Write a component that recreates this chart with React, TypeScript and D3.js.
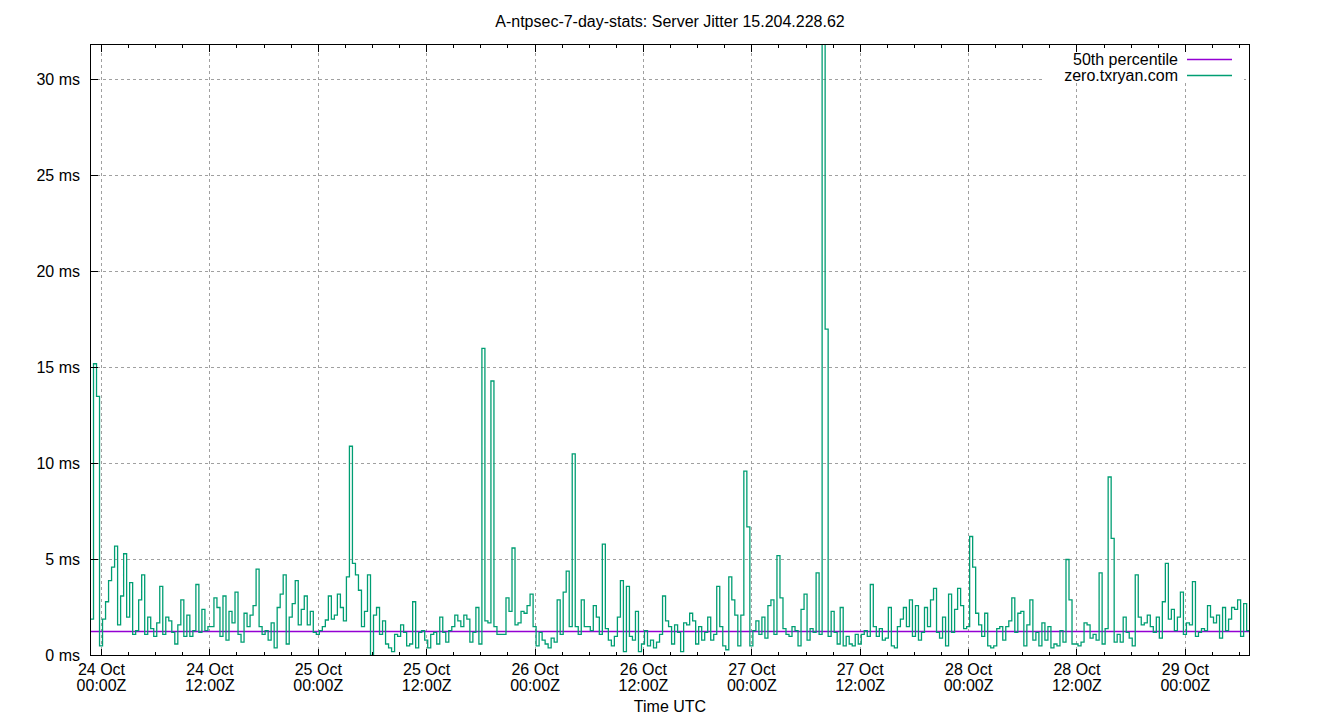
import React from 'react';
import * as d3 from 'd3';

const TITLE = 'A-ntpsec-7-day-stats: Server Jitter 15.204.228.62';
const X_LABEL = 'Time UTC';
const SERIES_NAMES = ['50th percentile', 'zero.txryan.com'];
const SERIES_COLORS = ['#9400d3', '#009e73'];
const START = '2023-10-23T22:47:00Z';
const END = '2023-10-29T07:06:00Z';
const STEP_MINUTES = 20;
const MEDIAN_MS = 1.25;
const Y_MAX = 31.83;
const Y_TICKS = [0, 5, 10, 15, 20, 25, 30];

// server jitter samples (ms), one every STEP_MINUTES from START
const JITTER_MS = [
  1.9, 15.2, 13.5, 0.5, 1.9, 2.8, 3.9, 4.6, 5.7, 1.6,
  3.1, 5.3, 2.0, 3.8, 1.1, 1.3, 2.9, 4.2, 1.1, 2.0,
  1.4, 1.0, 1.7, 3.6, 1.1, 2.0, 1.8, 1.2, 0.6, 1.6,
  2.9, 1.0, 2.1, 1.0, 1.3, 3.7, 1.2, 2.4, 1.3, 1.5,
  1.5, 3.0, 2.5, 1.0, 3.1, 0.8, 2.3, 1.7, 3.3, 1.1,
  0.7, 2.2, 1.5, 2.1, 2.6, 4.5, 1.5, 1.1, 1.3, 0.8,
  1.7, 0.4, 2.5, 3.2, 4.2,
  0.6, 2.0, 2.7, 3.9, 1.6, 2.4, 3.1, 1.6, 2.3, 1.2,
  1.1, 1.3, 1.5, 1.85, 3.1, 1.9, 2.1, 3.2, 2.5, 1.8,
  4.1, 10.9, 4.8, 4.2, 3.4, 1.5, 2.3, 4.2, 0.0, 2.1,
  2.5, 1.1, 1.8, 0.6, 0.4, 0.2, 1.1, 1.0, 1.6, 1.2,
  0.5, 0.6, 2.8, 0.4, 1.2, 1.3, 0.8, 0.4, 1.1, 1.2,
  0.6, 2.0, 1.2, 0.7, 1.3, 1.5, 2.1, 1.8, 1.5, 2.1,
  1.9, 0.7, 1.2, 2.5,
  0.6, 16.0, 1.8, 1.7, 14.3, 1.5, 1.1, 1.1, 1.1, 3.0,
  2.3, 5.6, 1.6, 1.7, 2.3, 2.2, 2.6, 3.2, 1.5, 0.5,
  1.2, 0.8, 0.6, 0.4, 0.9, 0.7, 2.9, 1.1, 3.3, 4.4,
  1.5, 10.5, 1.5, 1.1, 2.9, 1.5, 1.5, 1.3, 2.6, 2.0,
  1.1, 5.8, 1.4, 0.8, 0.5, 1.0, 2.0, 3.9, 0.2, 3.6,
  1.0, 0.8, 2.3, 0.2, 0.6, 1.3, 0.5, 0.8, 0.4, 0.7,
  1.1, 3.1, 1.8, 1.5, 0.6,
  1.6, 1.2, 0.2, 1.7, 1.6, 2.2, 1.8, 0.6, 1.5, 0.8,
  1.2, 2.0, 0.8, 1.1, 3.6, 1.5, 0.5, 0.3, 4.1, 2.9,
  2.1, 0.5, 2.1, 9.6, 6.7, 0.5, 1.3, 1.8, 1.1, 2.0,
  0.9, 2.6, 2.9, 1.1, 5.2, 3.0, 1.4, 1.1, 1.0, 1.5,
  1.3, 0.5, 2.4, 3.2, 0.8, 1.4, 1.2, 4.3, 1.1, 34.0,
  17.0, 1.0, 2.3, 1.2, 0.6, 2.5, 0.5, 1.0, 0.6, 0.5,
  1.1, 0.6, 1.1, 1.3,
  1.0, 3.7, 1.5, 1.0, 1.4, 0.8, 0.9, 2.5, 0.5, 0.4,
  1.5, 1.9, 2.5, 1.5, 2.9, 1.0, 2.6, 0.8, 1.2, 2.5,
  1.5, 2.9, 3.5, 1.2, 0.9, 2.0, 0.5, 3.2, 1.2, 2.4,
  3.5, 2.6, 1.4, 1.5, 6.2, 4.6, 2.2, 1.6, 1.0, 2.2,
  0.5, 0.4, 0.5, 1.4, 1.5, 0.8, 1.5, 1.8, 3.0, 1.2,
  2.2, 2.3, 0.5, 1.6, 2.9, 0.8, 1.2, 0.5, 1.7, 0.8,
  1.5, 0.4, 0.6, 0.5, 1.3,
  0.7, 5.0, 2.9, 0.6, 0.6, 0.5, 0.7, 1.7, 1.6, 0.9,
  1.1, 0.8, 4.3, 0.6, 1.4, 9.3, 6.1, 0.7, 1.1, 0.7,
  2.0, 1.2, 0.9, 0.5, 4.2, 2.0, 1.6, 1.7, 2.1, 1.5,
  1.2, 2.0, 0.9, 2.8, 4.8, 1.9, 2.4, 1.3, 2.0, 3.3,
  1.1, 1.7, 1.6, 3.85, 1.0, 1.2, 1.4, 1.3, 2.6, 2.0,
  1.7, 2.1, 0.9, 2.5, 1.3, 1.9, 2.5, 2.4, 2.9, 1.0,
  2.7, 1.3, 2.5,
];

const FONT = '"Liberation Sans", Arial, sans-serif';

export default function App() {
  const W = 1340, H = 720;
  const L = 90.5, R = 1249.5, T = 44.5, B = 655.5;
  const start = new Date(START);
  const end = new Date(END);
  const x = d3.scaleUtc().domain([start, end]).range([L, R]);
  const y = d3.scaleLinear().domain([0, Y_MAX]).range([B, T]);

  const pts: [Date, number][] = JITTER_MS.map((v, i) => [
    new Date(start.getTime() + i * STEP_MINUTES * 60000),
    v,
  ]);
  const line = d3
    .line<[Date, number]>()
    .x((d) => x(d[0]))
    .y((d) => y(d[1]))
    .curve(d3.curveStepAfter);

  const snap = (v: number) => Math.round(v - 0.5) + 0.5;
  const medianLine = d3
    .line<[Date, number]>()
    .x((d) => x(d[0]))
    .y((d) => snap(y(d[1])));

  const major = d3.utcHour.every(12)!.range(start, end);
  const minor = d3.utcHour
    .every(3)!
    .range(start, end)
    .filter((d) => d.getUTCHours() % 12 !== 0);
  const fmtDay = d3.utcFormat('%d %b');
  const fmtTime = d3.utcFormat('%H:%MZ');

  return (
    <svg
      width={W}
      height={H}
      style={{ position: 'absolute', left: 0, top: 0, background: '#fff' }}
      fontFamily={FONT}
      fontSize={16}
    >
      <rect x={0} y={0} width={W} height={H} fill="#fff" />
      <defs>
        <clipPath id="plotclip">
          <rect x={L} y={T} width={R - L} height={B - T} />
        </clipPath>
      </defs>
      {/* grid */}
      <g stroke="#a0a0a0" strokeWidth={1} strokeDasharray="3,3" shapeRendering="crispEdges">
        {Y_TICKS.filter((v) => v > 0).map((v) => (
          <line key={'gy' + v} x1={L} x2={R} y1={snap(y(v))} y2={snap(y(v))} />
        ))}
        {major.map((d) => (
          <line key={'gx' + d.getTime()} x1={snap(x(d))} x2={snap(x(d))} y1={B} y2={T} />
        ))}
      </g>
      {/* data */}
      <g clipPath="url(#plotclip)">
        <path
          d={medianLine([
            [start, MEDIAN_MS],
            [end, MEDIAN_MS],
          ]) || ''}
          fill="none"
          stroke={SERIES_COLORS[0]}
          strokeWidth={1.5}
        />
        <path
          d={line(pts) || ''}
          fill="none"
          stroke={SERIES_COLORS[1]}
          strokeWidth={1.3}
        />
      </g>
      {/* key background */}
      <rect x={1042} y={45.5} width={202} height={36} fill="#fff" />
      {/* border */}
      <rect x={L} y={T} width={R - L} height={B - T} fill="none" stroke="#000" strokeWidth={1} shapeRendering="crispEdges" />
      {/* ticks */}
      <g stroke="#000" strokeWidth={1} shapeRendering="crispEdges">
        {Y_TICKS.map((v) => (
          <line key={'ty' + v} x1={L} x2={L + 7} y1={snap(y(v))} y2={snap(y(v))} />
        ))}
        {major.map((d) => (
          <g key={'tx' + d.getTime()}>
            <line x1={snap(x(d))} x2={snap(x(d))} y1={B} y2={B - 7} />
            <line x1={snap(x(d))} x2={snap(x(d))} y1={T} y2={T + 7} />
          </g>
        ))}
        {minor.map((d) => (
          <g key={'mx' + d.getTime()}>
            <line x1={snap(x(d))} x2={snap(x(d))} y1={B} y2={B - 3.5} />
            <line x1={snap(x(d))} x2={snap(x(d))} y1={T} y2={T + 3.5} />
          </g>
        ))}
      </g>
      {/* y labels */}
      {Y_TICKS.map((v) => (
        <text key={'ly' + v} x={80} y={y(v) + 5.7} textAnchor="end" fill="#000">
          {v} ms
        </text>
      ))}
      {/* x labels */}
      {major.map((d) => (
        <g key={'lx' + d.getTime()}>
          <text x={x(d)} y={674.7} textAnchor="middle" fill="#000">
            {fmtDay(d)}
          </text>
          <text x={x(d)} y={690.7} textAnchor="middle" fill="#000">
            {fmtTime(d)}
          </text>
        </g>
      ))}
      <text x={(L + R) / 2} y={711.7} textAnchor="middle" fill="#000">
        {X_LABEL}
      </text>
      <text x={(L + R) / 2} y={26.7} textAnchor="middle" fill="#000">
        {TITLE}
      </text>
      {/* legend */}
      {SERIES_NAMES.map((name, i) => (
        <g key={name}>
          <text x={1178} y={64.5 + i * 16} textAnchor="end" fill="#000">
            {name}
          </text>
          <line
            x1={1187}
            x2={1232}
            y1={59.5 + i * 16}
            y2={59.5 + i * 16}
            stroke={SERIES_COLORS[i]}
            strokeWidth={1.5}
          />
        </g>
      ))}
    </svg>
  );
}
